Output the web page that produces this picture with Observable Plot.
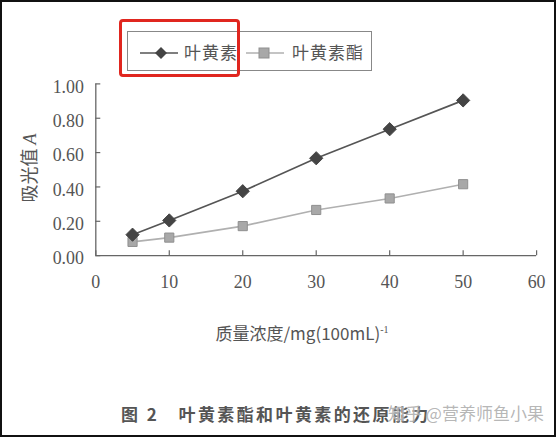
<!DOCTYPE html>
<html><head><meta charset="utf-8">
<script src="https://cdn.jsdelivr.net/npm/d3@7"></script>
<script src="https://cdn.jsdelivr.net/npm/@observablehq/plot@0.6"></script>
<style>
html,body{margin:0;padding:0;background:#fff;}
#fig{position:relative;width:556px;height:437px;box-sizing:border-box;border:2px solid #111;overflow:hidden;background:#fff;}
#fig svg.plot{position:absolute;left:-2px;top:-2px;}
.abs{position:absolute;white-space:nowrap;}
</style></head>
<body>
<div id="fig"></div>
<script>
// ---- data ----
const concentrations = [5, 10, 20, 30, 40, 50];
const luteinValues = [0.122, 0.205, 0.375, 0.567, 0.736, 0.904];
const esterValues = [0.080, 0.105, 0.172, 0.266, 0.333, 0.416];
const seriesNames = ["叶黄素", "叶黄素酯"];
const xTicks = [0, 10, 20, 30, 40, 50, 60];
const yTicks = [0, 0.2, 0.4, 0.6, 0.8, 1.0];
const xTitle = "质量浓度/mg(100mL)";
const yTitle = "吸光值";
const caption = "图 2　叶黄素酯和叶黄素的还原能力";
const watermark = "知乎 @营养师鱼小果";

const lutein = concentrations.map((c, i) => ({x: c, y: luteinValues[i]}));
const ester = concentrations.map((c, i) => ({x: c, y: esterValues[i]}));

const W = 556, H = 299, mL = 96, mR = 16, mT = 84, mB = 42;
const frameW = W - mL - mR, frameH = H - mT - mB;
const textCol = "#555";
const serif = "'Liberation Serif','DejaVu Serif',serif";

const chart = Plot.plot({
  width: W, height: H,
  marginLeft: mL, marginRight: mR, marginTop: mT, marginBottom: mB,
  x: {domain: [0, 60]},
  y: {domain: [0, 1]},
  style: {background: "transparent", overflow: "visible"},
  marks: [
    Plot.ruleY([0], {x1: 0, x2: 60, stroke: "#666", strokeWidth: 1.3}),
    Plot.ruleX([0], {y1: 0, y2: 1, stroke: "#666", strokeWidth: 1.3}),
    Plot.tickX(xTicks, {x: d => d, insetTop: frameH - 5, stroke: "#666", strokeWidth: 1.2}),
    Plot.tickY(yTicks, {y: d => d, insetRight: frameW - 5, stroke: "#666", strokeWidth: 1.2}),
    Plot.axisX(xTicks, {tickSize: 0, tickPadding: 20, fontSize: 18, fontFamily: serif, fill: textCol, label: null}),
    Plot.axisY(yTicks, {tickSize: 0, tickPadding: 12, dy: 3, fontSize: 18, fontFamily: serif, fill: textCol, tickFormat: d => d.toFixed(2), label: null}),
    Plot.line(ester, {x: "x", y: "y", stroke: "#b0b0b0", strokeWidth: 1.6}),
    Plot.dot(ester, {x: "x", y: "y", symbol: "square", r: 5.2, fill: "#a8a8a8", stroke: "#8f8f8f", strokeWidth: 1}),
    Plot.line(lutein, {x: "x", y: "y", stroke: "#555", strokeWidth: 1.7}),
    Plot.dot(lutein, {x: "x", y: "y", symbol: "diamond2", r: 6, fill: "#444", stroke: "#444", strokeWidth: 1})
  ]
});
chart.classList.add("plot");
const fig = document.getElementById("fig");
fig.appendChild(chart);

function addDiv(html, css) {
  const d = document.createElement("div");
  d.className = "abs";
  d.innerHTML = html;
  Object.assign(d.style, css);
  fig.appendChild(d);
  return d;
}
const o = 2;
// y title (rotated)
addDiv(`${yTitle} <span style="font-family:${serif};font-style:italic">A</span>`, {
  left: (29 - o) + "px", top: (168 - o) + "px", transform: "translate(-50%,-50%) rotate(-90deg)",
  fontFamily: "'Noto Sans CJK SC',sans-serif", fontSize: "18px", color: textCol, lineHeight: "1"
});
// x title
addDiv(`${xTitle}<sup style="font-size:10px;font-family:${serif}">-1</sup>`, {
  left: (302 - o) + "px", top: (332 - o) + "px", transform: "translate(-50%,-50%)",
  fontFamily: "'Noto Sans CJK SC',sans-serif", fontSize: "17px", color: textCol, lineHeight: "1"
});
// legend box
const leg = addDiv("", {
  left: (127 - o) + "px", top: (31 - o) + "px", width: "245px", height: "40px",
  boxSizing: "border-box", border: "1.3px solid #888"
});
leg.innerHTML = `
<svg width="245" height="40" style="position:absolute;left:0;top:0;overflow:visible">
  <line x1="12" x2="50" y1="21" y2="21" stroke="#555" stroke-width="1.7"/>
  <path d="M33,15 L39,21 L33,27 L27,21 Z" fill="#444"/>
  <line x1="118" x2="156" y1="21" y2="21" stroke="#b0b0b0" stroke-width="1.6"/>
  <rect x="131" y="16" width="10" height="10" fill="#a8a8a8" stroke="#8f8f8f"/>
  <text x="56" y="27" font-size="17" fill="${textCol}" font-family="'Noto Sans CJK SC',sans-serif" letter-spacing="1">${seriesNames[0]}</text>
  <text x="164" y="27" font-size="17" fill="${textCol}" font-family="'Noto Sans CJK SC',sans-serif" letter-spacing="1">${seriesNames[1]}</text>
</svg>`;
// red highlight
addDiv("", {
  left: (119 - o) + "px", top: (19 - o) + "px", width: "121px", height: "58px",
  boxSizing: "border-box", border: "3px solid #e0261f", borderRadius: "4px"
});
// caption
addDiv(caption, {
  left: (121 - o) + "px", top: (413 - o) + "px", transform: "translateY(-50%)",
  fontFamily: "'Noto Sans CJK SC',sans-serif", fontWeight: "bold", fontSize: "17px",
  letterSpacing: "2.4px", color: "#555", lineHeight: "1"
});
// watermark
addDiv(watermark, {
  left: (388 - o) + "px", top: (412 - o) + "px", transform: "translateY(-50%)",
  fontFamily: "'Noto Sans CJK SC',sans-serif", fontSize: "17px",
  color: "rgba(170,170,170,0.85)", lineHeight: "1", textShadow: "0 0 2px #fff"
});
</script>
</body></html>
